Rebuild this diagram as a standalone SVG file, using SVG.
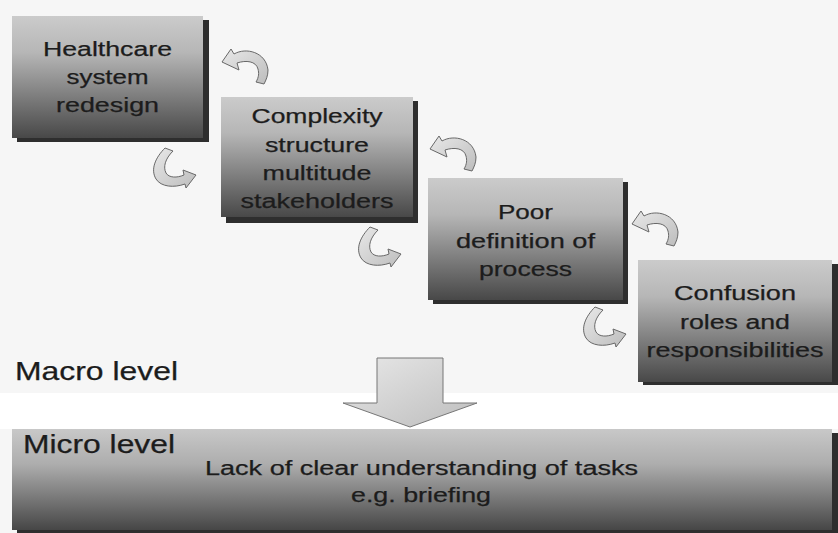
<svg xmlns="http://www.w3.org/2000/svg" width="838" height="533" viewBox="0 0 838 533">
<defs>
<linearGradient id="boxg" x1="0" y1="0" x2="0" y2="1">
<stop offset="0" stop-color="#cbcbcb"/>
<stop offset="0.3" stop-color="#b6b6b6"/>
<stop offset="0.7" stop-color="#777777"/>
<stop offset="1" stop-color="#484848"/>
</linearGradient>
<linearGradient id="barg" x1="0" y1="0" x2="0" y2="1">
<stop offset="0" stop-color="#c8c8c8"/>
<stop offset="0.35" stop-color="#adadad"/>
<stop offset="0.7" stop-color="#767676"/>
<stop offset="1" stop-color="#464646"/>
</linearGradient>
<linearGradient id="arrg" x1="0" y1="0" x2="1" y2="1">
<stop offset="0" stop-color="#e8e8e8"/>
<stop offset="1" stop-color="#bdbdbd"/>
</linearGradient>
<path id="upArr" d="M0,14 L9,1 L12,6 C24,-1 44,4 46,22 C46,28 44,32 42,36 L34,34 C37,29 37,25 36,21 C34,13 24,12 15,15 L17,22 Z"/>
<path id="loArr" d="M13,1 L21,4 C13,12 11,20 14,26 C17,31 25,31 32,28 L31,23 L44,28 L34,41 L33,37 C22,41 9,40 4,32 C-2,22 4,10 13,1 Z"/>
</defs>
<style>
.shadow{fill:#2e2e2e}
.box{fill:url(#boxg)}
.t{font-family:"Liberation Sans",Arial,sans-serif;font-size:20px;fill:#1c1c1c;stroke:#1c1c1c;stroke-width:0.25;text-anchor:middle}
.lvl{font-family:"Liberation Sans",Arial,sans-serif;font-size:25px;fill:#1c1c1c;stroke:#1c1c1c;stroke-width:0.25}
.bt{font-family:"Liberation Sans",Arial,sans-serif;font-size:20px;fill:#1c1c1c;stroke:#1c1c1c;stroke-width:0.25;text-anchor:middle}
.arr{fill:url(#arrg);stroke:#686868;stroke-width:1}
</style>
<rect x="0" y="0" width="838" height="533" fill="#f6f6f6"/>
<rect x="0" y="393" width="838" height="36" fill="#ffffff"/>

<g id="node-healthcare">
<rect class="shadow" x="17" y="20" width="192" height="122"/>
<rect class="box" x="12" y="16" width="191" height="122"/>
<text class="t" x="107.5" y="56" textLength="129" lengthAdjust="spacingAndGlyphs">Healthcare</text>
<text class="t" x="107.5" y="84" textLength="82" lengthAdjust="spacingAndGlyphs">system</text>
<text class="t" x="107.5" y="112" textLength="103" lengthAdjust="spacingAndGlyphs">redesign</text>
</g>

<g id="node-complexity">
<rect class="shadow" x="226" y="101" width="192" height="122"/>
<rect class="box" x="221" y="97" width="192" height="120"/>
<text class="t" x="317" y="123" textLength="131" lengthAdjust="spacingAndGlyphs">Complexity</text>
<text class="t" x="317" y="151.5" textLength="104" lengthAdjust="spacingAndGlyphs">structure</text>
<text class="t" x="317" y="180" textLength="109" lengthAdjust="spacingAndGlyphs">multitude</text>
<text class="t" x="317" y="208" textLength="153" lengthAdjust="spacingAndGlyphs">stakeholders</text>
</g>

<g id="node-poor">
<rect class="shadow" x="433" y="182" width="195" height="122"/>
<rect class="box" x="428" y="178" width="195" height="122"/>
<text class="t" x="525.5" y="219" textLength="55" lengthAdjust="spacingAndGlyphs">Poor</text>
<text class="t" x="525.5" y="247.5" textLength="139" lengthAdjust="spacingAndGlyphs">definition of</text>
<text class="t" x="525.5" y="276" textLength="93" lengthAdjust="spacingAndGlyphs">process</text>
</g>

<g id="node-confusion">
<rect class="shadow" x="643" y="264" width="195" height="121"/>
<rect class="box" x="638" y="260" width="194" height="122"/>
<text class="t" x="735" y="300" textLength="122" lengthAdjust="spacingAndGlyphs">Confusion</text>
<text class="t" x="735" y="328.5" textLength="110" lengthAdjust="spacingAndGlyphs">roles and</text>
<text class="t" x="735" y="357" textLength="177" lengthAdjust="spacingAndGlyphs">responsibilities</text>
</g>

<text class="lvl" x="15" y="380" textLength="163" lengthAdjust="spacingAndGlyphs">Macro level</text>

<g id="node-micro">
<rect class="shadow" x="17" y="433" width="821" height="100"/>
<rect fill="url(#barg)" x="12" y="429" width="820" height="101"/>
<text class="lvl" x="23" y="453" textLength="152" lengthAdjust="spacingAndGlyphs">Micro level</text>
<text class="bt" x="421.5" y="475" textLength="433" lengthAdjust="spacingAndGlyphs">Lack of clear understanding of tasks</text>
<text class="bt" x="421" y="502" textLength="140" lengthAdjust="spacingAndGlyphs">e.g. briefing</text>
</g>

<g id="connectors">
<use href="#upArr" class="arr" transform="translate(222,48)"/>
<use href="#loArr" class="arr" transform="translate(152,147)"/>
<use href="#upArr" class="arr" transform="translate(430,135)"/>
<use href="#loArr" class="arr" transform="translate(357,226)"/>
<use href="#upArr" class="arr" transform="translate(632,210)"/>
<use href="#loArr" class="arr" transform="translate(582,306)"/>
<polygon points="377,358 443,358 443,403 477,403 410,427 343,403 377,403" fill="url(#arrg)" stroke="#777777" stroke-width="1"/>
</g>
</svg>
